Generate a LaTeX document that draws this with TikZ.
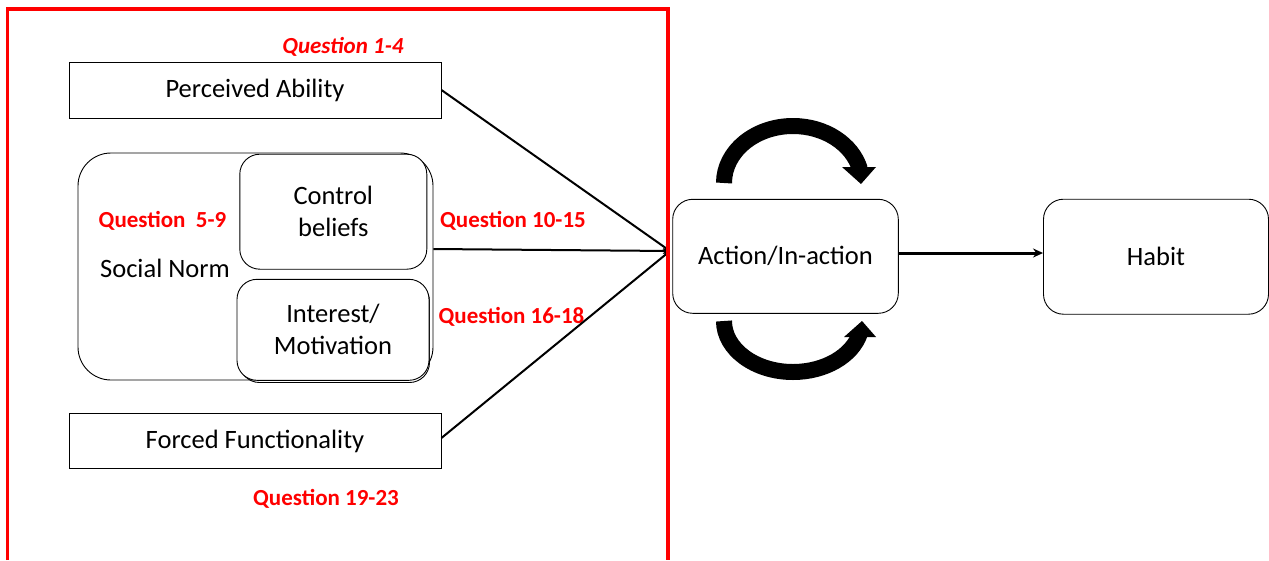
\documentclass[tikz,border=0pt]{standalone}
\usepackage{fontspec}
\setmainfont{Carlito}
\usetikzlibrary{arrows.meta}
\begin{document}
\begin{tikzpicture}[x=1pt,y=-1pt,
  mainfont/.style={font=\fontsize{26.5}{30}\selectfont},
  plainbox/.style={draw, line width=0.9pt, inner sep=0pt, align=center, mainfont},
  roundbox/.style={plainbox, rounded corners=20pt},
  qlabel/.style={text=red, inner sep=0pt, font=\fontsize{23}{27}\selectfont\bfseries},
  feed/.style={line width=2pt, -{Stealth[length=7pt,width=6pt]}},
  loopband/.style={line width=16pt, line cap=butt}]
\useasboundingbox (0,0) rectangle (1269,560);

% factor boxes
\node[plainbox, minimum width=372pt, minimum height=56pt] (pa) at (255,90) {\raisebox{-1.5pt}{Perceived Ability}};
\node[plainbox, minimum width=372pt, minimum height=55pt] (ff) at (255,441) {\raisebox{-1.5pt}{Forced Functionality}};

% social norm group
\node[plainbox, rounded corners=33pt, minimum width=355pt, minimum height=227pt] (sn) at (255.5,266.5) {};
\node[roundbox, minimum width=190pt, minimum height=101pt] (imback) at (334.5,332) {};
\node[roundbox, fill=white, minimum width=187pt, minimum height=115pt] (cb) at (333.3,211.7) {Control\\[2pt]beliefs};
\node[roundbox, fill=white, minimum width=192pt, minimum height=101pt] (im) at (333,329.8) {Interest/\\[2pt]Motivation};
\node[mainfont, inner sep=0pt] (snl) at (165,268) {Social Norm};

% outcome boxes
\node[roundbox, minimum width=225.6pt, minimum height=114pt] (ac) at (785.5,256.3) {\raisebox{-1.5pt}{Action/In-action}};
\node[roundbox, minimum width=225pt, minimum height=115pt] (hb) at (1156,256.7) {\raisebox{-1.5pt}{Habit}};

% question labels
\node[qlabel, font=\fontsize{23}{27}\selectfont\bfseries\itshape] (q1) at (343,47) {Question 1-4};
\node[qlabel] (q2) at (162.5,221) {Question\ \ 5-9};
\node[qlabel] (q3) at (513,221) {Question 10-15};
\node[qlabel] (q4) at (511.5,317) {Question 16-18};
\node[qlabel] (q5) at (326,499) {Question 19-23};

% connectors into the action box
\coordinate (hub) at (670,251);
\draw[feed] (pa.east) -- (hub);
\draw[feed] (sn.east |- 0,249) -- (hub);
\draw[feed] ([yshift=3pt]ff.east) -- (hub);
\draw[line width=3pt, -{Stealth[length=10pt,width=9pt]}] (ac.east |- 0,253) -- (hb.west |- 0,253);

% feedback loops around the action box
\draw[loopband] (724,183) arc[start angle=180, end angle=14, x radius=69pt, y radius=57pt];
\fill (842,167) -- (876,167) -- (861,184) -- cycle;
\draw[loopband] (724,321) arc[start angle=180, end angle=346, x radius=69pt, y radius=51pt];
\fill (844,337) -- (876,337) -- (862,321) -- cycle;

% questionnaire frame
\draw[red, line width=3.8pt] (7.5,560) -- (7.5,9) -- (668,9) -- (668,560);
\end{tikzpicture}
\end{document}
